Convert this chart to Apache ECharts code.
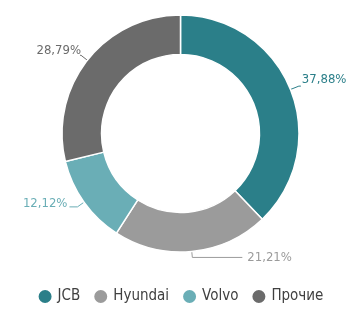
<!DOCTYPE html>
<html><head><meta charset="utf-8">
<script src="https://cdn.jsdelivr.net/npm/echarts@6/dist/echarts.min.js"></script>
<style>html,body{margin:0;padding:0;background:#fff}#c{width:360px;height:316px}</style>
</head><body><div id="c"></div>
<script>
const categories = ['JCB', 'Hyundai', 'Volvo', 'Прочие'];
const values = [37.88, 21.21, 12.12, 28.79];
const colors = ['#2b7f89', '#9b9b9b', '#6aaeb6', '#6b6b6b'];
const lineLen = [[9, 2], [6, 50], [8, 8], [8, 1]];
const labelShift = [[-1, -6], [3, 0], [0, -3], [3, -5]];

const FONT = '"DejaVu Sans Condensed", "Liberation Sans Narrow", sans-serif';
const chart = echarts.init(document.getElementById('c'));
chart.setOption({
  animation: false,
  color: colors,
  legend: {
    bottom: 6,
    left: 'center',
    icon: 'circle',
    itemWidth: 15,
    itemHeight: 15,
    itemGap: 12,
    textStyle: { fontFamily: FONT, fontSize: 15, color: '#404040' },
    data: categories
  },
  series: [{
    type: 'pie',
    center: [180.5, 133.5],
    radius: [79, 118.5],
    startAngle: 90,
    clockwise: true,
    avoidLabelOverlap: false,
    itemStyle: { borderColor: '#fff', borderWidth: 1.5 },
    label: {
      fontFamily: FONT,
      fontSize: 13,
      distanceToLabelLine: 2,
      formatter: p => p.value.toFixed(2).replace('.', ',') + '%'
    },
    labelLayout: p => ({ dx: labelShift[p.dataIndex][0], dy: labelShift[p.dataIndex][1] }),
    labelLine: { lineStyle: { width: 1 } },
    data: categories.map((c, i) => ({
      name: c,
      value: values[i],
      label: { color: colors[i] },
      labelLine: { length: lineLen[i][0], length2: lineLen[i][1], lineStyle: { color: colors[i] } }
    }))
  }]
});
</script></body></html>
